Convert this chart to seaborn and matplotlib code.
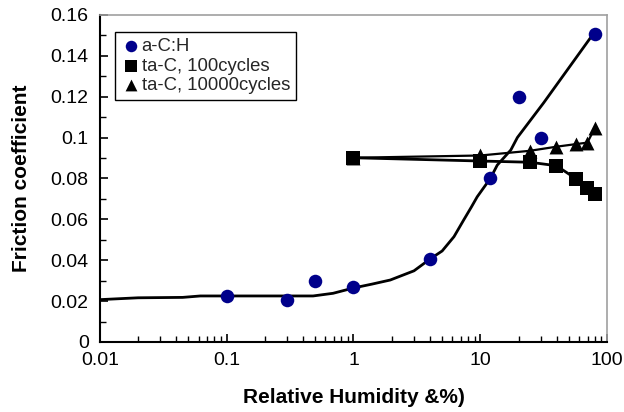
import matplotlib
matplotlib.use("Agg")
import matplotlib.pyplot as plt
import matplotlib.ticker as mticker
import seaborn as sns

# a-C:H measurements
ach_rh = [0.1, 0.3, 0.5, 1.0, 4.0, 12.0, 20.0, 30.0, 80.0]
ach_mu = [0.0225, 0.0205, 0.030, 0.0267, 0.0405, 0.080, 0.120, 0.100, 0.1505]

# fitted trend through the a-C:H data
fit_rh = [0.01, 0.02, 0.045, 0.062, 0.48, 0.69, 1.0, 1.4, 1.95, 3.0, 4.0, 5.0, 6.2,
          7.4, 8.5, 9.45, 12.0, 13.6, 17.4, 19.6, 31.6, 74.3, 80.0]
fit_mu = [0.0207, 0.0216, 0.0218, 0.0225, 0.0225, 0.0238, 0.0264, 0.0283, 0.0303,
          0.0348, 0.0405, 0.0445, 0.0515, 0.0597, 0.066, 0.071, 0.080, 0.0865, 0.0939,
          0.100, 0.117, 0.149, 0.1505]

# ta-C after 100 cycles
tac100_rh = [1.0, 10.0, 24.6, 39.8, 57.2, 69.8, 79.8]
tac100_mu = [0.0901, 0.0885, 0.0879, 0.0862, 0.0797, 0.0752, 0.0724]

# ta-C after 10000 cycles
tac10k_rh = [1.0, 10.0, 24.6, 39.8, 57.2, 69.8, 79.8]
tac10k_mu = [0.0901, 0.0912, 0.0935, 0.0955, 0.0968, 0.0975, 0.1045]

y_ticks = [0, 0.02, 0.04, 0.06, 0.08, 0.1, 0.12, 0.14, 0.16]
y_labels = ["0", "0.02", "0.04", "0.06", "0.08", "0.1", "0.12", "0.14", "0.16"]
x_ticks = [0.01, 0.1, 1, 10, 100]
x_labels = ["0.01", "0.1", "1", "10", "100"]

sns.set_theme(style="white")
plt.rcParams["font.family"] = ["Liberation Sans", "DejaVu Sans"]

fig = plt.figure(figsize=(6.24, 4.12), dpi=100)
ax = fig.add_axes([0.160, 0.170, 0.813, 0.794])
ax.set_xscale("log")

navy = "#00008B"

sns.lineplot(x=fit_rh, y=fit_mu, ax=ax, color="black", linewidth=2.0, sort=False,
             estimator=None, zorder=2)
sns.lineplot(x=tac100_rh, y=tac100_mu, ax=ax, color="black", linewidth=2.0,
             estimator=None, zorder=2)
sns.lineplot(x=tac10k_rh, y=tac10k_mu, ax=ax, color="black", linewidth=1.6,
             estimator=None, zorder=2)

sns.scatterplot(x=tac10k_rh, y=tac10k_mu, ax=ax, marker="^", s=100, color="black",
                edgecolor="black", linewidth=0, zorder=3, label="ta-C, 10000cycles")
sns.scatterplot(x=tac100_rh, y=tac100_mu, ax=ax, marker="s", s=88, color="black",
                edgecolor="black", linewidth=0, zorder=4, label="ta-C, 100cycles")
sns.scatterplot(x=ach_rh, y=ach_mu, ax=ax, marker="o", s=95, color=navy,
                edgecolor=navy, linewidth=0, zorder=5, label="a-C:H")

ax.set_xlim(0.01, 100)
ax.set_ylim(0, 0.16)
ax.set_yticks(y_ticks)
ax.set_yticklabels(y_labels)
ax.yaxis.set_minor_locator(mticker.MultipleLocator(0.01))
ax.set_xticks(x_ticks)
ax.set_xticklabels(x_labels)
ax.xaxis.set_minor_locator(mticker.LogLocator(base=10, subs=range(2, 10)))
ax.xaxis.set_minor_formatter(mticker.NullFormatter())

ax.tick_params(axis="both", which="major", direction="in", length=6, width=1.2,
               color="black", labelsize=14, labelcolor="black",
               bottom=True, left=True)
ax.tick_params(axis="y", which="major", pad=8)
ax.tick_params(axis="x", which="major", pad=7)
ax.tick_params(axis="both", which="minor", direction="in", length=4, width=1.0,
               color="black", bottom=True, left=True)

for side in ("left", "bottom"):
    ax.spines[side].set_color("black")
    ax.spines[side].set_linewidth(1.5)
for side in ("top", "right"):
    ax.spines[side].set_color("#a0a0a0")
    ax.spines[side].set_linewidth(1.2)

ax.set_xlabel("Relative Humidity &%)", fontsize=15, fontweight="bold",
              color="black", labelpad=14)
ax.set_ylabel("Friction coefficient", fontsize=15, fontweight="bold",
              color="black", labelpad=14)

handles, labels = ax.get_legend_handles_labels()
order = [labels.index("a-C:H"), labels.index("ta-C, 100cycles"),
         labels.index("ta-C, 10000cycles")]
leg = ax.legend([handles[i] for i in order], [labels[i] for i in order],
                loc="upper left", bbox_to_anchor=(0.0296, 0.948), fontsize=13.3,
                frameon=True, fancybox=False, edgecolor="black", framealpha=1,
                handletextpad=0.1, handlelength=1.0, borderpad=0.35,
                labelspacing=0.12, markerscale=0.85, borderaxespad=0)
leg.get_frame().set_linewidth(1.0)

fig.savefig("out.png", dpi=100)
